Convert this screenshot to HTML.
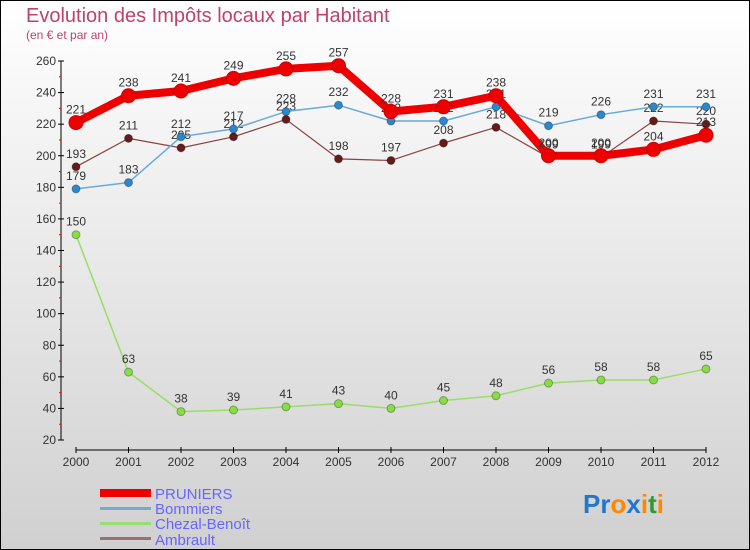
<!DOCTYPE html>
<html><head><meta charset="utf-8"><style>
body{margin:0;}
#c{width:750px;height:550px;position:relative;overflow:hidden;}
svg text{font-family:"Liberation Sans",sans-serif;}
</style></head><body>
<div id="c">
<svg id="s" width="750" height="550" xmlns="http://www.w3.org/2000/svg">
<defs><linearGradient id="bg" x1="0" y1="0" x2="0" y2="1"><stop offset="0" stop-color="#ffffff"/><stop offset="1" stop-color="#d0d0d0"/></linearGradient></defs>
<rect x="0.5" y="0.5" width="749" height="549" fill="url(#bg)" stroke="#000"/>
<text x="26" y="22" font-size="20" fill="#c0406e">Evolution des Impôts locaux par Habitant</text>
<text x="26" y="39" font-size="12" fill="#c0406e">(en € et par an)</text>
<g id="axes"></g><g id="series"></g>
<g>
<rect x="100" y="489" width="51" height="8" fill="#ee0000"/>
<text x="155" y="499" font-size="15" fill="#6666ff">PRUNIERS</text>
<rect x="100" y="507" width="51" height="3" fill="#7aa8c8"/>
<text x="155" y="514" font-size="15" fill="#6666ff">Bommiers</text>
<rect x="100" y="522" width="51" height="3" fill="#99dd77"/>
<text x="155" y="529" font-size="15" fill="#6666ff">Chezal-Benoît</text>
<rect x="100" y="537" width="51" height="3" fill="#997070"/>
<text x="155" y="545" font-size="15" fill="#6666ff">Ambrault</text>
</g>
<text x="583" y="513" font-size="26" font-weight="bold"><tspan fill="#2277cc">Pr</tspan><tspan fill="#ff8800">o</tspan><tspan fill="#2277cc">x</tspan><tspan fill="#ff8800">i</tspan><tspan fill="#339933">t</tspan><tspan fill="#ff8800">i</tspan></text>
</svg>
</div>
<script>
const years=[2000,2001,2002,2003,2004,2005,2006,2007,2008,2009,2010,2011,2012];
const pruniers=[221,238,241,249,255,257,228,231,238,200,200,204,213];
const bommiers=[179,183,212,217,228,232,222,222,231,219,226,231,231];
const chezal=[150,63,38,39,41,43,40,45,48,56,58,58,65];
const ambrault=[193,211,205,212,223,198,197,208,218,199,199,222,220];
const yTicks=[20,40,60,80,100,120,140,160,180,200,220,240,260];
const NS="http://www.w3.org/2000/svg";
const X=i=>76+i*52.5;
const Y=v=>440-(v-20)*379/240;
function mk(tag,attrs,parent){const e=document.createElementNS(NS,tag);for(const k in attrs)e.setAttribute(k,attrs[k]);parent.appendChild(e);return e;}
const ax=document.getElementById('axes');
let a=mk('line',{x1:61,y1:Y(260),x2:61,y2:Y(20),stroke:'#000'},ax);


a=mk('line',{x1:76,y1:450,x2:706,y2:450,stroke:'#000'},ax);


yTicks.forEach((t,i)=>{
  mk('line',{x1:58,y1:Y(t),x2:64,y2:Y(t),stroke:'#000'},ax);
  if(i<yTicks.length-1) mk('line',{x1:59,y1:Y(t+10),x2:61,y2:Y(t+10),stroke:'#f00'},ax);
  const tx=mk('text',{x:56,y:Y(t)+4,'font-size':12,fill:'#333','text-anchor':'end'},ax);
  tx.textContent=t;
  
  
});
years.forEach((yr,i)=>{
  mk('line',{x1:X(i),y1:447,x2:X(i),y2:453,stroke:'#000'},ax);
  const tx=mk('text',{x:X(i),y:466,'font-size':12,fill:'#333','text-anchor':'middle'},ax);
  tx.textContent=yr;
  
  
});
const sg=document.getElementById('series');
const S=[
 {n:'chezal-benoit',d:chezal,c:'#99dd66',w:1.5,r:4,f:'#88dd44'},
 {n:'ambrault',d:ambrault,c:'#884444',w:1.2,r:4,f:'#661a1a'},
 {n:'bommiers',d:bommiers,c:'#66aadd',w:1.5,r:4,f:'#2a88cc'},
 {n:'pruniers',d:pruniers,c:'#ee0000',w:8,r:7,f:'#ee0000'}
];
S.forEach(s=>{
  const g=mk('g',{},sg);
  
  
  const p=mk('polyline',{points:s.d.map((v,i)=>X(i)+','+Y(v)).join(' '),fill:'none',stroke:s.c,'stroke-width':s.w,'stroke-linejoin':'round'},g);
  
  
  s.d.forEach((v,i)=>{
    const c=mk('circle',{cx:X(i),cy:Y(v),r:s.r,fill:s.f,stroke:s.n==='pruniers'?'#cc0000':'rgba(0,0,0,0.3)'},g);
    
    
    const t=mk('text',{x:X(i),y:Y(v)-9,'font-size':12,fill:'#333','text-anchor':'middle'},g);
    t.textContent=v;
    
    
  });
});
</script>
</body></html>
